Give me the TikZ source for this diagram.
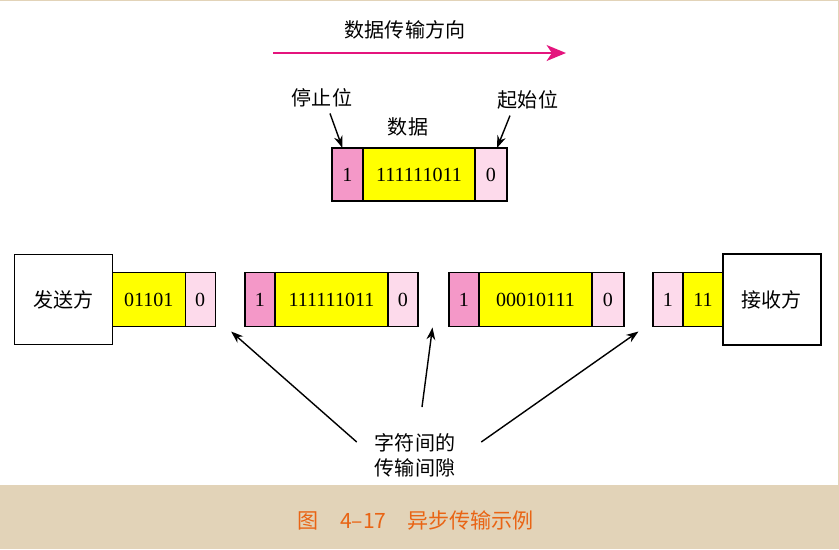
\documentclass[tikz,border=0pt]{standalone}
\usepackage{fontspec}
\setmainfont{Liberation Serif}
\newfontfamily\cjk{Noto Sans CJK SC}
\usepackage{tikz}
\usetikzlibrary{arrows.meta, positioning, calc}

\definecolor{paperbg}{RGB}{226,211,184}
\definecolor{stoppink}{RGB}{244,152,200}
\definecolor{startpink}{RGB}{253,218,235}
\definecolor{datayellow}{RGB}{255,255,0}
\definecolor{dirmagenta}{RGB}{228,20,125}
\definecolor{caporange}{RGB}{233,100,20}

\begin{document}
\begin{tikzpicture}[
    x=0.02cm, y=-0.02cm,
    bit/.style={
        rectangle, draw=black, line width=0.8pt,
        minimum height=1.08cm, inner sep=0pt, outer sep=0pt,
        font=\fontsize{11.4}{14}\selectfont
    },
    stopcell/.style={bit, fill=stoppink, minimum width=0.6cm},
    datacell/.style={bit, fill=datayellow},
    startcell/.style={bit, fill=startpink, minimum width=0.6cm},
    station/.style={
        rectangle, draw=black, line width=0.8pt, fill=white,
        minimum width=1.95cm, minimum height=1.8cm,
        outer sep=0pt, font=\cjk\fontsize{11.4}{14}\selectfont
    },
    note/.style={font=\cjk\fontsize{11.4}{14.2}\selectfont, align=center},
    pointer/.style={-{Stealth[length=7pt, width=5pt]}, line width=0.8pt},
]

% Sfondo
\fill[paperbg] (0,0) rectangle (839,549);
\fill[white] (0,1) rectangle (838,485);

% Direzione
\node[note] (dirlbl) at (405,30) {数据传输方向};
\coordinate (dirL) at (273,53);
\coordinate (dirR) at (566,53);
\draw[dirmagenta, line width=1.4pt,
    -{Stealth[length=11pt, width=9pt, inset=3pt]}] (dirL) -- (dirR);

% Carattere di esempio
\node[note] (stoplbl)  at (322,98)  {停止位};
\node[note] (startlbl) at (528,100) {起始位};
\node[note] (datalbl)  at (408,127) {数据};

\node[stopcell, anchor=west, minimum width=0.62cm, minimum height=1.06cm]
    (tstop) at (332,174.5) {1};
\node[datacell, right=0pt of tstop, minimum width=2.24cm, minimum height=1.06cm]
    (tdata) {111111011};
\node[startcell, right=0pt of tdata, minimum width=0.64cm, minimum height=1.06cm]
    (tstart) {0};

\draw[pointer] ($(stoplbl.south)+(8,0)$) -- ($(tstop.north)+(-5,0)$);
\draw[pointer] ($(startlbl.south)+(-18,0)$) -- ($(tstart.north)+(6,0)$);

% Trasmettitore
\node[station] (sender) at (63.5,299.5) {发送方};
\node[datacell, right=0pt of sender, minimum width=1.46cm] (f1a) {01101};
\node[startcell, right=0pt of f1a] (f1b) {0};

% Caratteri in linea
\node[stopcell, anchor=west] (f2a) at (245,299.5) {1};
\node[datacell, right=0pt of f2a, minimum width=2.26cm] (f2b) {111111011};
\node[startcell, right=0pt of f2b] (f2c) {0};

\node[stopcell, anchor=west] (f3a) at (449,299.5) {1};
\node[datacell, right=0pt of f3a, minimum width=2.26cm] (f3b) {00010111};
\node[startcell, right=0pt of f3b, minimum width=0.64cm] (f3c) {0};

\node[startcell, anchor=west] (f4a) at (653,299.5) {1};
\node[datacell, right=0pt of f4a, minimum width=0.8cm] (f4b) {11};

% Ricevitore
\node[station, right=0pt of f4b, minimum width=1.96cm, minimum height=1.82cm]
    (receiver) {接收方};

% Intervalli
\coordinate (gap1) at ($(f1b.south east)!0.5!(f2a.south west)+(1,5)$);
\coordinate (gap2) at ($(f2c.south east)!0.5!(f3a.south west)+(-1,1)$);
\coordinate (gap3) at ($(f3c.south east)!0.5!(f4a.south west)+(0,5)$);

\node[note] (gaplbl) at (415,455) {字符间的\\传输间隙};

\draw[pointer] ($(gaplbl.west)+(-12,-13)$) -- (gap1);
\draw[pointer] ($(gaplbl.north)+(7,-20)$) -- (gap2);
\draw[pointer] ($(gaplbl.east)+(20,-13)$) -- (gap3);

% Didascalia
\node[font=\cjk\fontsize{12}{14}\selectfont, text=caporange]
    (caption) at (416,520) {图\quad 4–17\quad 异步传输示例};

\end{tikzpicture}
\end{document}
